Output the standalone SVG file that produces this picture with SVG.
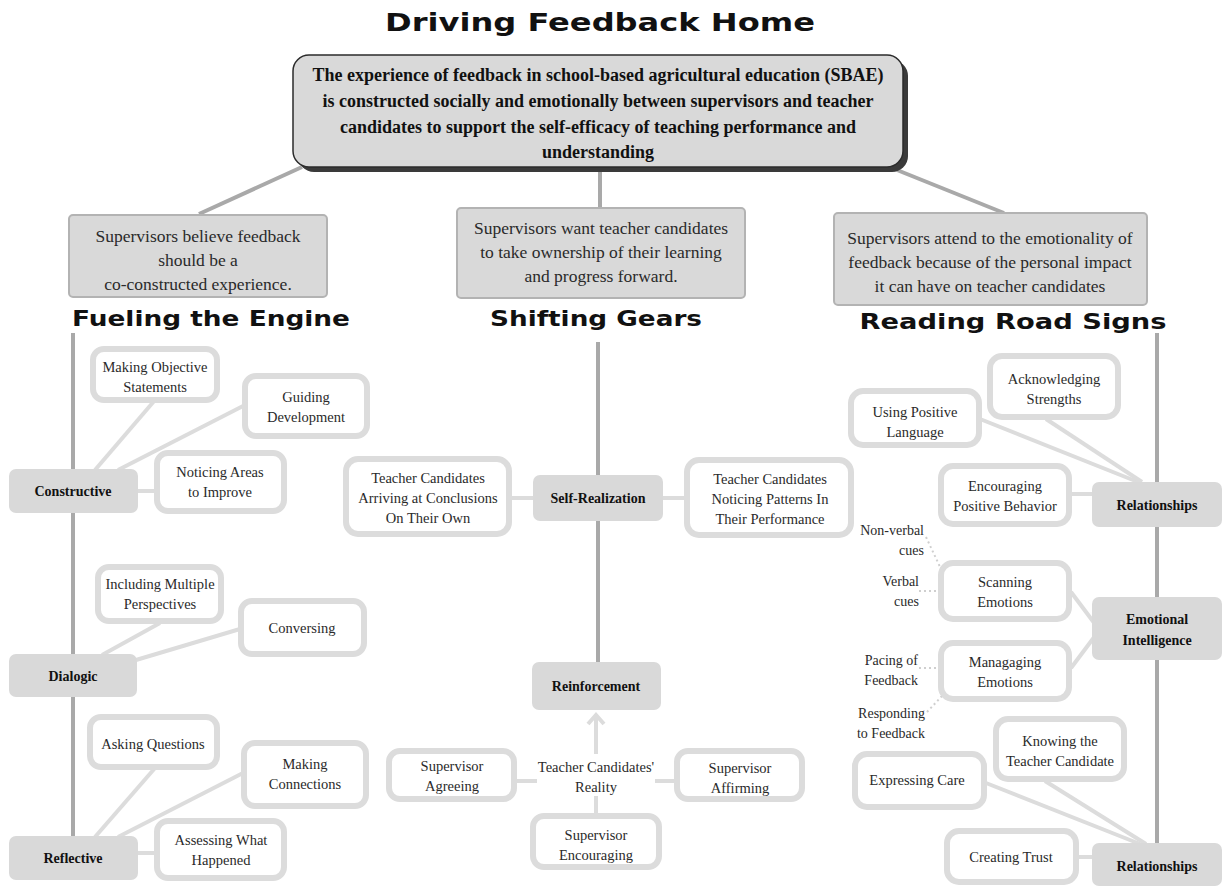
<svg xmlns="http://www.w3.org/2000/svg" width="1231" height="886" viewBox="0 0 1231 886">
  <style>
    .bg { fill: #ffffff; }
    .head { font-family: "DejaVu Sans", "Liberation Sans", sans-serif; font-weight: bold; fill: #111; text-anchor: middle; }
    .root-box { fill: #d9d9d9; stroke: #2b2b2b; stroke-width: 1.5; }
    .root-shadow { fill: #3a3a3a; }
    .root-text { font-family: "Liberation Serif", serif; font-weight: bold; font-size: 18px; fill: #111; text-anchor: middle; }
    .theme-box { fill: #d9d9d9; stroke: #b3b3b3; stroke-width: 2; }
    .theme-text { font-family: "Liberation Serif", serif; font-size: 17.5px; fill: #2a2a2a; text-anchor: middle; }
    .cat-box { fill: #d9d9d9; }
    .cat-text { font-family: "Liberation Serif", serif; font-weight: bold; font-size: 14px; fill: #111; text-anchor: middle; }
    .leaf-box { fill: #ffffff; stroke: #dcdcdc; stroke-width: 6; }
    .leaf-text { font-family: "Liberation Serif", serif; font-size: 14.5px; fill: #2a2a2a; text-anchor: middle; }
    .note-text { font-family: "Liberation Serif", serif; font-size: 14px; fill: #2a2a2a; text-anchor: end; }
    .trunk { stroke: #a9a9a9; stroke-width: 4; fill: none; }
    .branch { stroke: #dcdcdc; stroke-width: 4; fill: none; }
    .dotted { stroke: #cfcfcf; stroke-width: 2; stroke-dasharray: 2 3; fill: none; }
  </style>

  <rect class="bg" x="0" y="0" width="1231" height="886"/>

  <!-- headings -->
  <text class="head" x="600" y="31" font-size="25" textLength="430" lengthAdjust="spacingAndGlyphs">Driving Feedback Home</text>
  <text class="head" x="211" y="326" font-size="22" textLength="278" lengthAdjust="spacingAndGlyphs">Fueling the Engine</text>
  <text class="head" x="596" y="326" font-size="22" textLength="212" lengthAdjust="spacingAndGlyphs">Shifting Gears</text>
  <text class="head" x="1013" y="329" font-size="22" textLength="307" lengthAdjust="spacingAndGlyphs">Reading Road Signs</text>

  <!-- connectors -->
  <g id="connectors">
    <!-- root to themes -->
    <line class="trunk" x1="302" y1="167" x2="199" y2="214"/>
    <line class="trunk" x1="600" y1="170" x2="600" y2="208"/>
    <line class="trunk" x1="897" y1="170" x2="1004" y2="213"/>
    <!-- column trunks -->
    <line class="trunk" x1="73" y1="333" x2="73" y2="860"/>
    <line class="trunk" x1="598" y1="342" x2="598" y2="664"/>
    <line class="trunk" x1="1157" y1="333" x2="1157" y2="845"/>
    <!-- Constructive -->
    <line class="branch" x1="95" y1="470" x2="155" y2="400"/>
    <line class="branch" x1="118" y1="470" x2="245" y2="405"/>
    <line class="branch" x1="138" y1="491" x2="156" y2="491"/>
    <!-- Dialogic -->
    <line class="branch" x1="102" y1="655" x2="160" y2="623"/>
    <line class="branch" x1="136" y1="660" x2="240" y2="629"/>
    <!-- Reflective -->
    <line class="branch" x1="95" y1="837" x2="155" y2="768"/>
    <line class="branch" x1="118" y1="837" x2="243" y2="773"/>
    <line class="branch" x1="138" y1="853" x2="156" y2="853"/>
    <!-- Self-Realization -->
    <line class="branch" x1="510" y1="498" x2="534" y2="498"/>
    <line class="branch" x1="662" y1="498" x2="687" y2="498"/>
    <!-- Reinforcement: arrow up from the reality label -->
    <line class="branch" x1="596" y1="754" x2="596" y2="716"/>
    <polyline class="branch" points="588,724 596,715 604,724"/>
    <line class="branch" x1="515" y1="781" x2="537" y2="781"/>
    <line class="branch" x1="655" y1="781" x2="676" y2="781"/>
    <line class="branch" x1="596" y1="796" x2="596" y2="816"/>
    <!-- Relationships (top) -->
    <line class="branch" x1="980" y1="419" x2="1138" y2="482"/>
    <line class="branch" x1="1046" y1="419" x2="1142" y2="482"/>
    <line class="branch" x1="1070" y1="494" x2="1092" y2="494"/>
    <!-- Emotional Intelligence -->
    <line class="branch" x1="1071" y1="592" x2="1095" y2="624"/>
    <line class="branch" x1="1071" y1="668" x2="1095" y2="636"/>
    <line class="dotted" x1="926" y1="537" x2="941" y2="569"/>
    <line class="dotted" x1="919" y1="591" x2="940" y2="591"/>
    <line class="dotted" x1="919" y1="668" x2="940" y2="668"/>
    <line class="dotted" x1="927" y1="712" x2="942" y2="696"/>
    <!-- Relationships (bottom) -->
    <line class="branch" x1="986" y1="783" x2="1140" y2="844"/>
    <line class="branch" x1="1045" y1="781" x2="1146" y2="844"/>
    <line class="branch" x1="1078" y1="857" x2="1093" y2="857"/>
  </g>

  <!-- root -->
  <g id="root">
    <rect class="root-shadow" x="298" y="60" width="610" height="112" rx="16"/>
    <rect class="root-box" x="293" y="55" width="610" height="112" rx="16"/>
    <text class="root-text" x="598" y="81">The experience of feedback in school-based agricultural education (SBAE)</text>
    <text class="root-text" x="598" y="107">is constructed socially and emotionally between supervisors and teacher</text>
    <text class="root-text" x="598" y="133">candidates to support the self-efficacy of teaching performance and</text>
    <text class="root-text" x="598" y="158">understanding</text>
  </g>

  <!-- themes -->
  <g id="theme-fueling">
    <rect class="theme-box" x="69" y="215" width="258" height="82" rx="4"/>
    <text class="theme-text" x="198" y="242">Supervisors believe feedback</text>
    <text class="theme-text" x="198" y="266">should be a</text>
    <text class="theme-text" x="198" y="290">co-constructed experience.</text>
  </g>
  <g id="theme-shifting">
    <rect class="theme-box" x="457" y="208" width="288" height="90" rx="4"/>
    <text class="theme-text" x="601" y="234">Supervisors want teacher candidates</text>
    <text class="theme-text" x="601" y="258">to take ownership of their learning</text>
    <text class="theme-text" x="601" y="282">and progress forward.</text>
  </g>
  <g id="theme-reading">
    <rect class="theme-box" x="834" y="213" width="313" height="92" rx="4"/>
    <text class="theme-text" x="990" y="244">Supervisors attend to the emotionality of</text>
    <text class="theme-text" x="990" y="268">feedback because of the personal impact</text>
    <text class="theme-text" x="990" y="292">it can have on teacher candidates</text>
  </g>

  <!-- Fueling the Engine -->
  <g id="constructive">
    <rect class="cat-box" x="9" y="469" width="129" height="44" rx="7"/>
    <text class="cat-text" x="73" y="496">Constructive</text>
  </g>
  <g id="making-objective-statements">
    <rect class="leaf-box" x="93" y="349" width="124" height="51" rx="11"/>
    <text class="leaf-text" x="155" y="372">Making Objective</text>
    <text class="leaf-text" x="155" y="392">Statements</text>
  </g>
  <g id="guiding-development">
    <rect class="leaf-box" x="245" y="376" width="122" height="60" rx="11"/>
    <text class="leaf-text" x="306" y="402">Guiding</text>
    <text class="leaf-text" x="306" y="422">Development</text>
  </g>
  <g id="noticing-areas">
    <rect class="leaf-box" x="157" y="453" width="127" height="58" rx="11"/>
    <text class="leaf-text" x="220" y="477">Noticing Areas</text>
    <text class="leaf-text" x="220" y="497">to Improve</text>
  </g>
  <g id="dialogic">
    <rect class="cat-box" x="9" y="654" width="128" height="43" rx="7"/>
    <text class="cat-text" x="73" y="681">Dialogic</text>
  </g>
  <g id="including-perspectives">
    <rect class="leaf-box" x="98" y="567" width="123" height="54" rx="11"/>
    <text class="leaf-text" x="160" y="589">Including Multiple</text>
    <text class="leaf-text" x="160" y="609">Perspectives</text>
  </g>
  <g id="conversing">
    <rect class="leaf-box" x="241" y="601" width="123" height="53" rx="11"/>
    <text class="leaf-text" x="302" y="633">Conversing</text>
  </g>
  <g id="reflective">
    <rect class="cat-box" x="9" y="836" width="129" height="44" rx="7"/>
    <text class="cat-text" x="73" y="863">Reflective</text>
  </g>
  <g id="asking-questions">
    <rect class="leaf-box" x="90" y="717" width="127" height="50" rx="11"/>
    <text class="leaf-text" x="153" y="749">Asking Questions</text>
  </g>
  <g id="making-connections">
    <rect class="leaf-box" x="244" y="743" width="122" height="63" rx="11"/>
    <text class="leaf-text" x="305" y="769">Making</text>
    <text class="leaf-text" x="305" y="789">Connections</text>
  </g>
  <g id="assessing-what-happened">
    <rect class="leaf-box" x="157" y="821" width="127" height="57" rx="11"/>
    <text class="leaf-text" x="221" y="845">Assessing What</text>
    <text class="leaf-text" x="221" y="865">Happened</text>
  </g>

  <!-- Shifting Gears -->
  <g id="self-realization">
    <rect class="cat-box" x="533" y="475" width="130" height="46" rx="7"/>
    <text class="cat-text" x="598" y="503">Self-Realization</text>
  </g>
  <g id="arriving-at-conclusions">
    <rect class="leaf-box" x="346" y="459" width="163" height="75" rx="12"/>
    <text class="leaf-text" x="428" y="483">Teacher Candidates</text>
    <text class="leaf-text" x="428" y="503">Arriving at Conclusions</text>
    <text class="leaf-text" x="428" y="523">On Their Own</text>
  </g>
  <g id="noticing-patterns">
    <rect class="leaf-box" x="687" y="460" width="164" height="75" rx="12"/>
    <text class="leaf-text" x="770" y="484">Teacher Candidates</text>
    <text class="leaf-text" x="770" y="504">Noticing Patterns In</text>
    <text class="leaf-text" x="770" y="524">Their Performance</text>
  </g>
  <g id="reinforcement">
    <rect class="cat-box" x="532" y="662" width="129" height="48" rx="7"/>
    <text class="cat-text" x="596" y="691">Reinforcement</text>
  </g>
  <g id="candidates-reality">
    <text class="leaf-text" x="596" y="772">Teacher Candidates'</text>
    <text class="leaf-text" x="596" y="792">Reality</text>
  </g>
  <g id="supervisor-agreeing">
    <rect class="leaf-box" x="389" y="751" width="125" height="48" rx="11"/>
    <text class="leaf-text" x="452" y="771">Supervisor</text>
    <text class="leaf-text" x="452" y="791">Agreeing</text>
  </g>
  <g id="supervisor-affirming">
    <rect class="leaf-box" x="677" y="751" width="125" height="48" rx="11"/>
    <text class="leaf-text" x="740" y="773">Supervisor</text>
    <text class="leaf-text" x="740" y="793">Affirming</text>
  </g>
  <g id="supervisor-encouraging">
    <rect class="leaf-box" x="533" y="816" width="126" height="51" rx="11"/>
    <text class="leaf-text" x="596" y="840">Supervisor</text>
    <text class="leaf-text" x="596" y="860">Encouraging</text>
  </g>

  <!-- Reading Road Signs -->
  <g id="relationships-top">
    <rect class="cat-box" x="1092" y="482" width="130" height="45" rx="7"/>
    <text class="cat-text" x="1157" y="510">Relationships</text>
  </g>
  <g id="acknowledging-strengths">
    <rect class="leaf-box" x="990" y="356" width="128" height="61" rx="12"/>
    <text class="leaf-text" x="1054" y="384">Acknowledging</text>
    <text class="leaf-text" x="1054" y="404">Strengths</text>
  </g>
  <g id="using-positive-language">
    <rect class="leaf-box" x="851" y="391" width="128" height="54" rx="12"/>
    <text class="leaf-text" x="915" y="417">Using Positive</text>
    <text class="leaf-text" x="915" y="437">Language</text>
  </g>
  <g id="encouraging-positive-behavior">
    <rect class="leaf-box" x="941" y="466" width="128" height="58" rx="12"/>
    <text class="leaf-text" x="1005" y="491">Encouraging</text>
    <text class="leaf-text" x="1005" y="511">Positive Behavior</text>
  </g>
  <g id="emotional-intelligence">
    <rect class="cat-box" x="1092" y="597" width="130" height="63" rx="7"/>
    <text class="cat-text" x="1157" y="624">Emotional</text>
    <text class="cat-text" x="1157" y="645">Intelligence</text>
  </g>
  <g id="scanning-emotions">
    <rect class="leaf-box" x="941" y="563" width="128" height="56" rx="12"/>
    <text class="leaf-text" x="1005" y="587">Scanning</text>
    <text class="leaf-text" x="1005" y="607">Emotions</text>
  </g>
  <g id="managing-emotions">
    <rect class="leaf-box" x="941" y="643" width="128" height="56" rx="12"/>
    <text class="leaf-text" x="1005" y="667">Managaging</text>
    <text class="leaf-text" x="1005" y="687">Emotions</text>
  </g>
  <g id="cue-notes">
    <text class="note-text" x="924" y="535">Non-verbal</text>
    <text class="note-text" x="924" y="555">cues</text>
    <text class="note-text" x="919" y="586">Verbal</text>
    <text class="note-text" x="919" y="606">cues</text>
    <text class="note-text" x="918" y="665">Pacing of</text>
    <text class="note-text" x="918" y="685">Feedback</text>
    <text class="note-text" x="925" y="718">Responding</text>
    <text class="note-text" x="925" y="738">to Feedback</text>
  </g>
  <g id="knowing-teacher-candidate">
    <rect class="leaf-box" x="996" y="719" width="128" height="60" rx="12"/>
    <text class="leaf-text" x="1060" y="746">Knowing the</text>
    <text class="leaf-text" x="1060" y="766">Teacher Candidate</text>
  </g>
  <g id="expressing-care">
    <rect class="leaf-box" x="855" y="754" width="129" height="53" rx="12"/>
    <text class="leaf-text" x="917" y="785">Expressing Care</text>
  </g>
  <g id="creating-trust">
    <rect class="leaf-box" x="947" y="831" width="129" height="51" rx="12"/>
    <text class="leaf-text" x="1011" y="862">Creating Trust</text>
  </g>
  <g id="relationships-bottom">
    <rect class="cat-box" x="1092" y="843" width="130" height="43" rx="7"/>
    <text class="cat-text" x="1157" y="871">Relationships</text>
  </g>
</svg>
